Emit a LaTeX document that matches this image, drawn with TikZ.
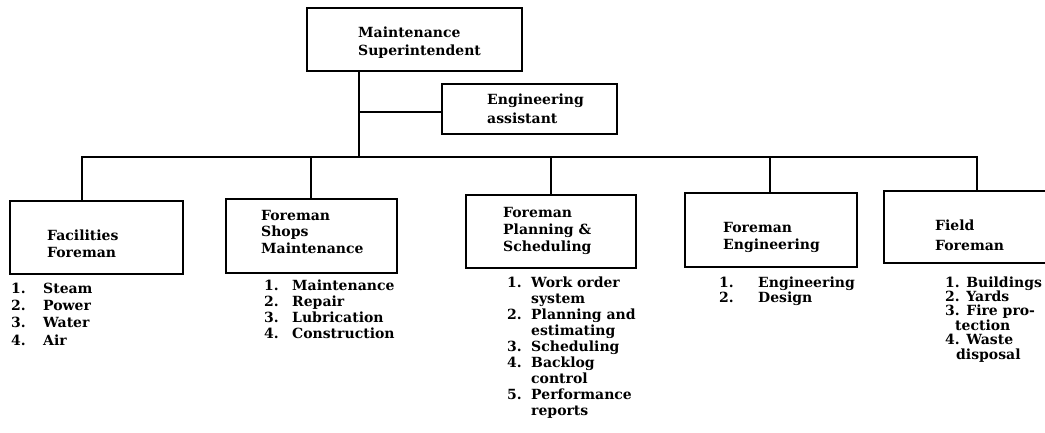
\documentclass[tikz,border=0pt]{standalone}
\usepackage{fontspec}
\setmainfont{DejaVu Serif}
\newcommand\tightskip{\lineskiplimit=-30pt\relax}
\newcommand\txtsize[1]{\fontsize{14}{#1}\selectfont\bfseries\tightskip}
\begin{document}
\begin{tikzpicture}[x=1pt,y=-1pt,
  box/.style={draw, line width=1.8pt, inner sep=0pt},
  lbl/.style={anchor=base west, inner sep=0pt, align=left, font=\txtsize{#1}},
  wire/.style={line width=1.8pt}]
\useasboundingbox (0,0) rectangle (1045,432);
% boxes
\node[box, anchor=north west, minimum width=215pt, minimum height=63pt] (top) at (306,7) {};
\node[box, anchor=north west, minimum width=175pt, minimum height=50pt] (eng) at (441,83) {};
\node[box, anchor=north west, minimum width=173pt, minimum height=73pt] (fac) at (9,200) {};
\node[box, anchor=north west, minimum width=171pt, minimum height=74pt] (shops) at (225,198) {};
\node[box, anchor=north west, minimum width=170pt, minimum height=73pt] (plan) at (465,194) {};
\node[box, anchor=north west, minimum width=172pt, minimum height=74pt] (engf) at (684,192) {};
\node[box, anchor=north west, minimum width=200pt, minimum height=72pt] (field) at (883,190) {};
% box labels (anchored at the baseline of the last line)
\node[lbl=18] (topt) at (358,55) {Maintenance\\Superintendent};
\node[lbl=19] (engt) at (487,123) {Engineering\\assistant};
\node[lbl=17] (fact) at (47,257) {Facilities\\Foreman};
\node[lbl=16.5] (shopst) at (261,253) {Foreman\\Shops\\Maintenance};
\node[lbl=17] (plant) at (503,251) {Foreman\\Planning \&\\Scheduling};
\node[lbl=17] (engft) at (723,249) {Foreman\\Engineering};
\node[lbl=20] (fieldt) at (935,250) {Field\\Foreman};
% lists
\node[lbl=17.3] (facl) at (11,345) {\makebox[32pt][l]{1.}Steam\\\makebox[32pt][l]{2.}Power\\\makebox[32pt][l]{3.}Water\\\makebox[32pt][l]{4.}Air};
\node[lbl=16] (shopsl) at (264,338) {\makebox[28pt][l]{1.}Maintenance\\\makebox[28pt][l]{2.}Repair\\\makebox[28pt][l]{3.}Lubrication\\\makebox[28pt][l]{4.}Construction};
\node[lbl=16] (planl) at (507,415) {\makebox[24pt][l]{1.}Work order\\\hspace*{24pt}system\\\makebox[24pt][l]{2.}Planning and\\\hspace*{24pt}estimating\\\makebox[24pt][l]{3.}Scheduling\\\makebox[24pt][l]{4.}Backlog\\\hspace*{24pt}control\\\makebox[24pt][l]{5.}Performance\\\hspace*{24pt}reports};
\node[lbl=15] (engfl) at (719,302) {\makebox[39pt][l]{1.}Engineering\\\makebox[39pt][l]{2.}Design};
\node[lbl=14.4] (fieldl) at (945,359) {1. Buildings\\2. Yards\\3. Fire pro-\\\hspace*{10pt}tection\\4. Waste\\\hspace*{11pt}disposal};
% connectors
\coordinate (jtop) at (359,157);
\coordinate (ea) at (359,112);
\coordinate (d1) at (82,157);
\coordinate (d2) at (311,157);
\coordinate (d3) at (551,157);
\coordinate (d4) at (770,157);
\coordinate (d5) at (977,157);
\draw[wire] (top.south -| jtop) -- (jtop);
\draw[wire] (ea) -- (eng.west |- ea);
\draw[wire, line cap=rect] (d1) -- (d5);
\draw[wire] (d1) -- (fac.north -| d1);
\draw[wire] (d2) -- (shops.north -| d2);
\draw[wire] (d3) -- (plan.north -| d3);
\draw[wire] (d4) -- (engf.north -| d4);
\draw[wire] (d5) -- (field.north -| d5);
\end{tikzpicture}
\end{document}
